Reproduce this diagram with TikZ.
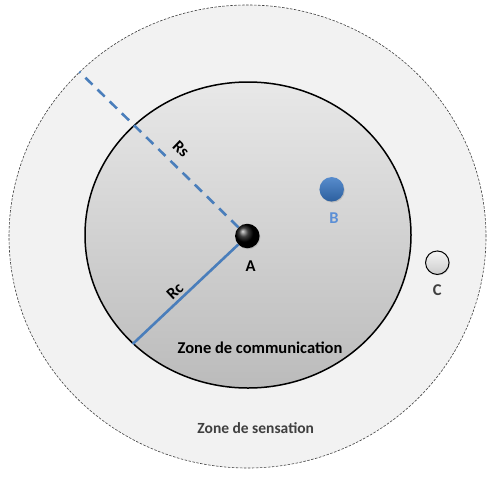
\documentclass[tikz,border=0pt]{standalone}
\usepackage{fontspec}
\setmainfont{Carlito}
\usetikzlibrary{shadows}
\definecolor{outerfill}{HTML}{F2F2F2}
\definecolor{innertop}{HTML}{E8E8E8}
\definecolor{innerbot}{HTML}{BBBBBB}
\definecolor{radblue}{HTML}{4A7EBB}
\definecolor{bblue}{HTML}{3A78C4}
\definecolor{bbluedark}{HTML}{2C5F9E}
\definecolor{labblue}{HTML}{5B8FD6}
\definecolor{sensgray}{HTML}{404040}
\tikzset{
  lab/.style={font=\fontsize{16.5}{18}\selectfont\bfseries, inner sep=0pt},
  radline/.style={draw=radblue, line width=2.6pt},
  ballA/.style={circle, minimum size=24.5pt, inner sep=0pt, ball color=black, drop shadow={opacity=0.3, shadow xshift=0.8pt, shadow yshift=-1pt}},
  ballB/.style={circle, minimum size=24.5pt, inner sep=0pt, top color=bblue!85!white, bottom color=bbluedark, drop shadow={opacity=0.3, shadow xshift=0.8pt, shadow yshift=-1pt}},
  ballC/.style={circle, minimum size=23.5pt, inner sep=0pt, draw=black, line width=1pt, top color=white!96!black, bottom color=white!80!black, drop shadow={opacity=0.25, shadow xshift=0.8pt, shadow yshift=-1pt}}
}
\begin{document}
\begin{tikzpicture}[x=1pt, y=-1pt]
\useasboundingbox (0,0) rectangle (494,477);
% sensing zone
\draw[fill=outerfill, draw=black!75, line width=0.6pt, dash pattern=on 2.5pt off 1.5pt] (247.5,236.5) ellipse [x radius=238.5pt, y radius=231.5pt];
% communication zone
\shade[top color=innertop, bottom color=innerbot] (248,235) ellipse [x radius=163pt, y radius=153pt];
\draw[black, line width=1.5pt] (248,235) ellipse [x radius=163pt, y radius=153pt];
% nodes
\node[ballA] (A) at (247.3,236) {};
\node[ballB] (B) at (331.7,189.3) {};
\node[ballC] (C) at (437.3,262.7) {};
% radius end points
\coordinate (rsend) at (79.3,71.7);
\coordinate (rcend) at (132.7,344);
\draw[radline, dash pattern=on 10pt off 7pt] (A) -- (rsend);
\draw[radline] (A) -- (rcend);
% labels
\node[lab, rotate=-44] (rs) at (181,149) {Rs};
\node[lab, rotate=43] (rc) at (175,291) {Rc};
\node[lab] (la) at (250.7,265.7) {A};
\node[lab, text=labblue] (lb) at (334,218) {B};
\node[lab, text=sensgray] (lc) at (437.3,290) {C};
\node[lab] (zc) at (260,347.3) {Zone de communication};
\node[lab, text=sensgray, font=\fontsize{15.5}{18}\selectfont\bfseries] (zs) at (255.7,428.3) {Zone de sensation};
\end{tikzpicture}
\end{document}
